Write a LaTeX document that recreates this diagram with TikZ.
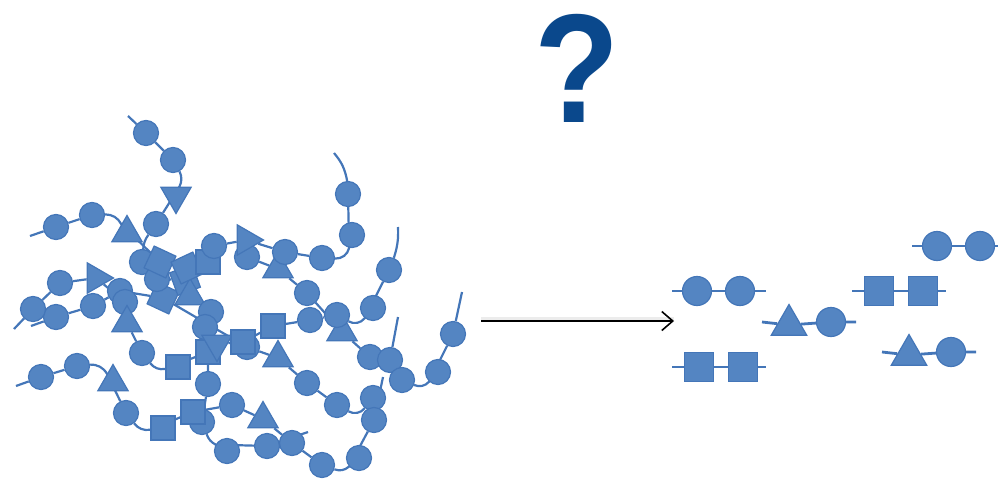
\documentclass[tikz,border=0pt]{standalone}
\usepackage{fontspec}
\newfontfamily\qfont{Liberation Sans}
\usetikzlibrary{shapes.geometric,arrows.meta}
\definecolor{monofill}{RGB}{84,133,194}
\definecolor{monoline}{RGB}{68,118,184}
\definecolor{qblue}{RGB}{10,72,140}
\pgfdeclarelayer{bg}
\pgfsetlayers{bg,main}
\tikzset{
  bond/.style={monoline, line width=2.2pt},
  ball/.style={circle, fill=monofill, draw=monoline, line width=1.2pt, inner sep=0pt, minimum size=25pt},
  box/.style={rectangle, fill=monofill, draw=monoline, line width=1.2pt, inner sep=0pt, minimum size=24pt},
  tri/.style={regular polygon, regular polygon sides=3, fill=monofill, draw=monoline, line width=1.2pt, inner sep=0pt, minimum size=35pt},
  tridown/.style={tri, shape border rotate=180},
  triright/.style={tri, shape border rotate=-90},
  big/.style={minimum size=29pt},
  bigtri/.style={tri, minimum size=41pt},
}
\begin{document}
\begin{tikzpicture}[x=1pt,y=-1pt]
\useasboundingbox (0,0) rectangle (998,479);

% question mark
\node[text=qblue, inner sep=0pt] (quest) at (577,68) {\scalebox{0.9}[1]{\qfont\bfseries\fontsize{155}{155}\selectfont ?}};

% chain f
\node[ball] (f1) at (247,257) {};
\node[tri] (f2) at (278,269) {};
\node[ball] (f3) at (307,293) {};
\node[tri] (f4) at (342,332) {};
\node[ball] (f5) at (370,357) {};
\node[ball] (f6) at (390,360) {};
\node[ball] (f7) at (402,380) {};
\node[ball] (f8) at (438,372) {};
\node[ball] (f9) at (453,334) {};
\coordinate (f10) at (462,292);
\coordinate (f0) at (398,317);

% chain d
\coordinate (d0) at (31,326);
\node[ball] (d1) at (56,317) {};
\node[ball] (d2) at (93,306) {};
\node[ball] (d3) at (120,291) {};
\node[box, rotate=-25] (d4) at (163,298) {};
\node[ball] (d5) at (247,347) {};
\node[tri] (d6) at (278,358) {};
\node[ball] (d7) at (307,383) {};
\node[ball] (d8) at (337,405) {};
\node[ball] (d9) at (373,398) {};

% chain c
\coordinate (c0) at (14,329);
\node[ball] (c1) at (33,309) {};
\node[ball] (c2) at (60,283) {};
\node[triright] (c3) at (96,278) {};
\node[ball] (c4) at (125,302) {};
\node[tri] (c5) at (127,323) {};
\node[ball] (c6) at (142,353) {};
\node[box] (c7) at (178,367) {};
\node[box] (c8) at (208,352) {};
\node[ball] (c9) at (208,384) {};
\node[ball] (c10) at (202,422) {};
\node[ball] (c11) at (227,451) {};
\node[ball] (c12) at (267,446) {};
\coordinate (c13) at (308,432);

% chain e
\coordinate (e0) at (16,386);
\node[ball] (e1) at (41,377) {};
\node[ball] (e2) at (77,366) {};
\node[tri] (e3) at (113,382) {};
\node[ball] (e4) at (126,413) {};
\node[box] (e5) at (163,428) {};
\node[box] (e6) at (193,412) {};
\node[ball] (e7) at (232,405) {};
\node[tri] (e8) at (263,419) {};
\node[ball] (e9) at (292,443) {};
\node[ball] (e10) at (322,465) {};
\node[ball] (e11) at (359,458) {};
\node[ball] (e12) at (374,420) {};
\coordinate (e13) at (383,377);

% chain a
\coordinate (a0) at (128,116);
\node[ball] (a1) at (146,133) {};
\node[ball] (a2) at (173,160) {};
\node[tridown] (a3) at (176,196) {};
\node[ball] (a4) at (156,224) {};
\node[ball] (a5) at (142,262) {};
\node[ball] (a6) at (157,279) {};
\node[box, rotate=20] (a7) at (185,280) {};
\node[tri] (a8) at (190,296) {};
\node[ball] (a9) at (211,312) {};
\node[ball] (a10) at (205,327) {};
\node[tridown] (a11) at (217,344) {};
\node[box] (a12) at (243,342) {};
\node[box] (a13) at (273,326) {};
\node[ball] (a14) at (310,320) {};
\node[ball] (a15) at (337,315) {};
\node[ball] (a16) at (373,308) {};
\node[ball] (a17) at (389,270) {};
\coordinate (a18) at (398,227);

% chain b
\coordinate (b0) at (30,236);
\node[ball] (b1) at (56,227) {};
\node[ball] (b2) at (92,215) {};
\node[tri] (b3) at (127,233) {};
\node[box, rotate=-25] (b4) at (160,262) {};
\node[box, rotate=25] (b5) at (187,268) {};
\node[box] (b6) at (208,262) {};
\node[ball] (b7) at (214,246) {};
\node[triright] (b8) at (246,240) {};
\node[ball] (b9) at (285,252) {};
\node[ball] (b10) at (322,258) {};
\node[ball] (b11) at (352,235) {};
\node[ball] (b12) at (348,194) {};
\coordinate (b13) at (334,153);

% fragments
\coordinate (p0) at (672,291);
\node[ball, big] (p1) at (697,291) {};
\node[ball, big] (p2) at (740,291) {};
\coordinate (p3) at (766,291);

\coordinate (q0) at (672,367);
\node[box, big] (q1) at (699,367) {};
\node[box, big] (q2) at (743,367) {};
\coordinate (q3) at (766,367);

\coordinate (r0) at (762,322);
\node[bigtri] (r1) at (789,325) {};
\node[ball, big] (r2) at (831,322) {};
\coordinate (r3) at (856,322);

\coordinate (s0) at (852,291);
\node[box, big] (s1) at (879,291) {};
\node[box, big] (s2) at (923,291) {};
\coordinate (s3) at (946,291);

\coordinate (t0) at (912,246);
\node[ball, big] (t1) at (937,246) {};
\node[ball, big] (t2) at (980,246) {};
\coordinate (t3) at (1000,246);

\coordinate (u0) at (882,352);
\node[bigtri] (u1) at (909,355) {};
\node[ball, big] (u2) at (951,352) {};
\coordinate (u3) at (976,352);

% arrow
\coordinate (from) at (481,321);
\coordinate (to) at (674,321);
\draw[black!15, opacity=0.5, line width=5pt] ([yshift=2pt]from) -- ([yshift=2pt]to);
\draw[line width=1.6pt, -{Straight Barb[length=11pt,width=19pt,line width=1.6pt]}] (from) -- (to);

\begin{pgfonlayer}{bg}
\draw[bond] (a0) -- (a1) -- (a2) to[bend left=25] (a3) -- (a4) to[bend right=15] (a5) -- (a6) -- (a7) -- (a8) -- (a9) -- (a10) -- (a11) -- (a12) -- (a13) -- (a14) -- (a15) to[bend right=40] (a16) -- (a17) to[bend right=10] (a18);
\draw[bond] (b0) -- (b1) -- (b2) to[bend left=30] (b3) -- (b4) -- (b5) -- (b6) -- (b7) -- (b8) -- (b9) -- (b10) to[bend right=40] (b11) -- (b12) to[bend right=15] (b13);
\draw[bond] (c0) -- (c1) -- (c2) -- (c3) -- (c4) -- (c5) -- (c6) to[bend right=30] (c7) -- (c8) -- (c9) -- (c10) to[bend right=20] (c11) -- (c12) -- (c13);
\draw[bond] (d0) -- (d1) -- (d2) -- (d3) -- (d4) -- (d5) -- (d6) -- (d7) -- (d8) to[bend right=40] (d9);
\draw[bond] (e0) -- (e1) -- (e2) to[bend left=30] (e3) -- (e4) to[bend right=30] (e5) -- (e6) -- (e7) -- (e8) -- (e9) -- (e10) to[bend right=30] (e11) -- (e12) -- (e13);
\draw[bond] (f1) -- (f2) -- (f3) -- (f4) -- (f5) -- (f6) -- (f7) to[bend right=35] (f8) -- (f9) -- (f10);
\draw[bond] (f0) -- (f6);
\draw[bond, line width=2.8pt] (p0) -- (p1) -- (p2) -- (p3);
\draw[bond, line width=2.8pt] (q0) -- (q1) -- (q2) -- (q3);
\draw[bond, line width=2.8pt] (r0) -- (r1) -- (r2) -- (r3);
\draw[bond, line width=2.8pt] (s0) -- (s1) -- (s2) -- (s3);
\draw[bond, line width=2.8pt] (t0) -- (t1) -- (t2) -- (t3);
\draw[bond, line width=2.8pt] (u0) -- (u1) -- (u2) -- (u3);
\end{pgfonlayer}
\end{tikzpicture}
\end{document}
